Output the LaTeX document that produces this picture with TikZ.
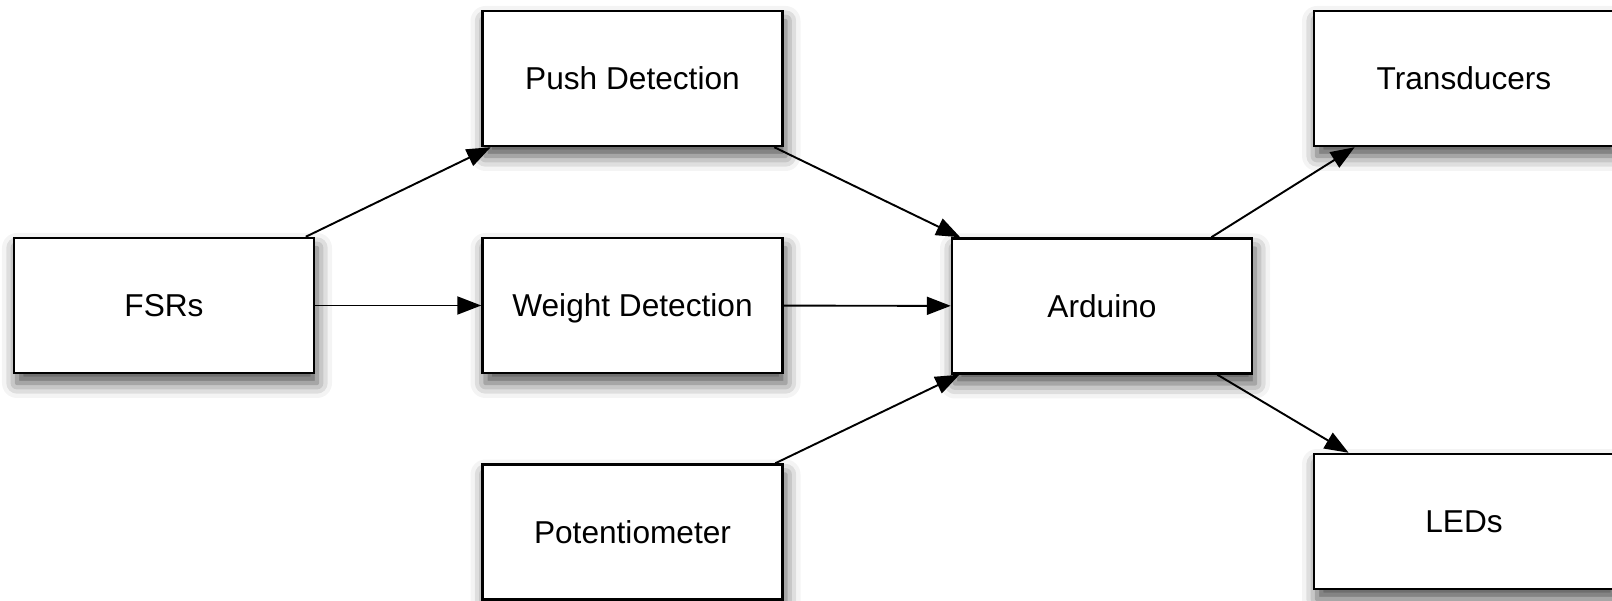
\documentclass[tikz,border=0pt]{standalone}
\usepackage{fontspec}
\setmainfont{Liberation Sans}
\usetikzlibrary{arrows.meta,shadows.blur}

\begin{document}
\begin{tikzpicture}[auto,every text node part/.style={align=center},
    block/.style={draw,line width=1.4pt,fill=white,minimum width=6cm,minimum height=2.7cm,
      font=\fontsize{18}{22}\selectfont,text height=12.9pt,text depth=0pt,
      blur shadow={shadow xshift=0.06cm,shadow yshift=-0.2cm,shadow blur radius=0.3cm,shadow opacity=70}},
    link/.style={line width=1.1pt,-{Triangle[length=0.48cm,width=0.36cm]}}]
    \clip (0,0) rectangle (32.24,12);
    \node[block] (fsrs) at (3.28,5.89) {FSRs};
    \node[block] (push) at (12.65,10.43) {Push Detection};
    \node[block] (weight) at (12.65,5.89) {Weight Detection};
    \node[block] (pot) at (12.65,1.36) {Potentiometer};
    \node[block] (arduino) at (22.04,5.88) {Arduino};
    \node[block] (trans) at (29.28,10.43) {Transducers};
    \node[block] (leds) at (29.28,1.57) {LEDs};

    \draw[link] (fsrs) to (push);
    \draw[link] (fsrs) to (weight);
    \draw[link] (push) to (arduino);
    \draw[link] (weight) to (arduino);
    \draw[link] (pot) to (arduino);
    \draw[link] (arduino) to (trans);
    \draw[link] (arduino) to (leds);
  \end{tikzpicture}
\end{document}
